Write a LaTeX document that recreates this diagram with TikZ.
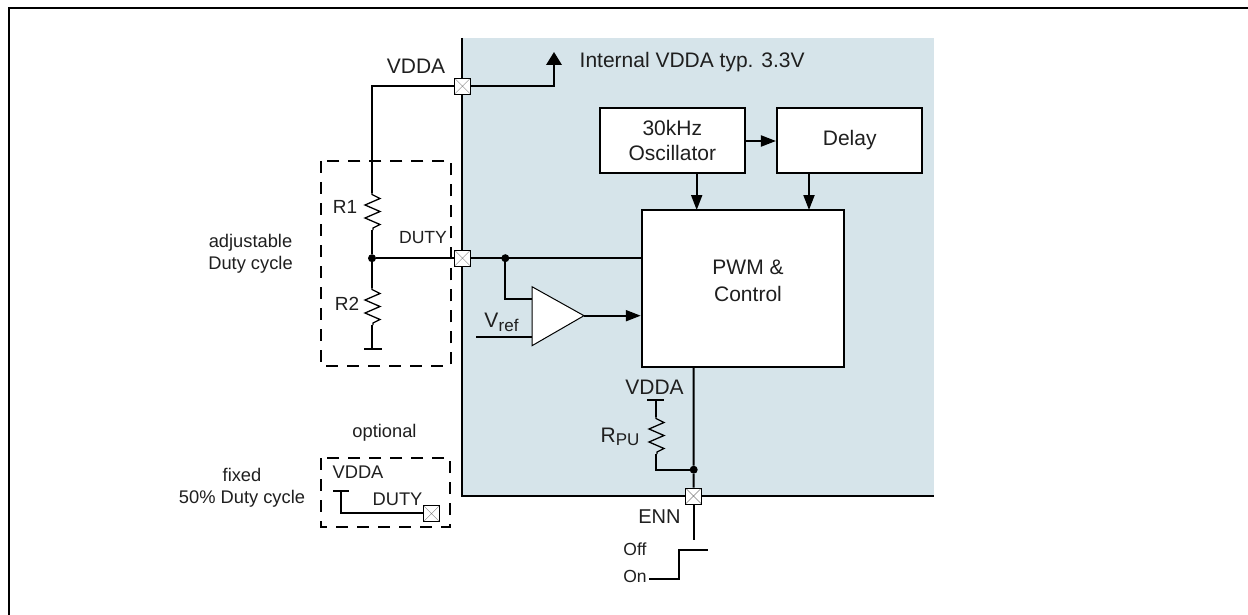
\documentclass[tikz,border=0pt]{standalone}
\usepackage{fontspec}
\setmainfont{Liberation Sans}
\usetikzlibrary{arrows.meta}
\tikzset{
 x=1pt,y=-1pt,
 wire/.style={line width=2pt,line join=miter},
 arr/.style={wire,-{Triangle[length=15pt,width=11pt]}},
 box/.style={draw,line width=2pt,fill=white,inner sep=0pt,align=center,font=\fontsize{21}{25}\selectfont,text=black!88},
 lab/.style={inner sep=0pt,align=center,font=\fontsize{21}{27}\selectfont,text=black!88},
 small/.style={inner sep=0pt,align=center,font=\fontsize{18.3}{22}\selectfont,text=black!88},
 dbox/.style={line width=1.8pt,dash pattern=on 12pt off 9pt},
 pad/.style={draw,line width=.8pt,fill=white,minimum size=16pt,inner sep=0pt,
   path picture={\draw[black!50,line width=.4pt] (path picture bounding box.north west)--(path picture bounding box.south east)
   (path picture bounding box.north east)--(path picture bounding box.south west);}},
 dot/.style={circle,fill=black,inner sep=0pt,minimum size=8pt},
}
\newcommand{\resist}[2]{%
 \draw[line width=1.3pt,line join=miter] (#1,#2) -- ++(0,1.5) -- ++(8,4) -- ++(-15,6.5) -- ++(15,6.5) -- ++(-15,6.5) -- ++(15,6.5) -- ++(-7,3.5) -- ++(0,2);}
\begin{document}
\begin{tikzpicture}
\useasboundingbox (0,0) rectangle (1248,615);
\fill[white] (0,0) rectangle (1248,615);
\draw[line width=2.3pt] (9,615) -- (9,8) -- (1248,8);
\fill[fill={rgb,255:red,214;green,228;blue,234}] (462,38) rectangle (934,496);
\draw[wire] (462,38) -- (462,496) -- (934,496);
% nodes
\node[box,minimum width=145.5pt,minimum height=65pt] (osc) at (672.3,140.5) {30kHz\\Oscillator};
\node[box,minimum width=145.5pt,minimum height=65pt] (delay) at (849.7,140.5) {Delay};
\node[box,minimum width=202.5pt,minimum height=156.7pt] (pwm) at (743,288.4) {};
\node[lab] (pwmt) at (748,280.5) {PWM \&\\Control};
\node[pad] (p1) at (462.5,86.2) {};
\node[pad] (p2) at (462.5,258.2) {};
\node[pad] (p3) at (693.5,496) {};
\node[pad] (p4) at (431.5,513.7) {};
\node[dot] (d1) at (372,258.2) {};
\node[dot] (d2) at (505.3,258.2) {};
\node[dot] (d3) at (693.7,469.7) {};
\coordinate (up) at (554,52);
\draw[wire,-{Triangle[length=13pt,width=15.5pt]}] (p1.east) -- (554,86.2) -- (up);
\draw[wire] (p1.west) -- (372,86.2) -- (372,193);
\resist{372}{193}
\draw[wire] (372,230) -- (d1) -- (372,288);
\resist{372}{288}
\draw[wire] (372,325) -- (372,349);
\draw[wire] (364,349) -- (382,349);
\draw[wire] (d1) -- (p2.west);
\draw[wire] (p2.east) -- (pwm.west|-p2);
\draw[arr] (osc.east|-0,141) -- (delay.west|-0,141);
\draw[arr] (696.7,173.3) -- (696.7,210);
\draw[arr] (809,173.3) -- (809,210);
\node[lab,anchor=west] (int) at (579.5,62.5) {Internal VDDA typ. 3.3V};
\node[lab] (v1) at (416,66) {VDDA};
\node[small,font=\fontsize{19}{22}\selectfont] (r1) at (345,207) {R1};
\node[small,font=\fontsize{19}{22}\selectfont] (r2) at (347,304) {R2};
\node[small,font=\fontsize{17.6}{22}\selectfont] (dl) at (423,237.3) {DUTY};
\node[small] (adj) at (250.5,254) {adjustable\\Duty cycle};
\draw[dbox] (321,161) rectangle (451,365.7);
% comparator
\draw[wire] (d2) -- (505.3,298.7) -- (532,298.7);
\coordinate (vr) at (476,336.7);
\draw[wire] (vr) -- (532,336.7);
\draw[line width=1pt,line join=miter,fill=white] (532,286.7) -- (584,315.7) -- (532,345.7) -- cycle;
\coordinate (ct) at (584,315.7);
\draw[arr] (ct) -- (pwm.west|-ct);
\node[lab,anchor=base] (vrt) at (501.5,327.5) {V\kern.2pt\raisebox{-3.5pt}{\fontsize{17}{20}\selectfont ref}};
% ENN
\draw[wire] (pwm.south-|d3) -- (d3) -- (p3.north);
\coordinate (e1) at (693.7,540);
\draw[wire] (p3.south-|e1) -- (e1);
\node[lab] (v2) at (654.5,387.7) {VDDA};
\draw[wire] (647,400) -- (664,400);
\draw[wire] (656,400) -- (656,417);
\resist{656}{417}
\draw[wire] (656,454) -- (656,469.7) -- (d3);
\node[lab,anchor=base west] (rpu) at (600.5,442) {R\raisebox{-3.5pt}{\fontsize{17}{20}\selectfont PU}};
\node[lab,font=\fontsize{20}{24}\selectfont] (enn) at (659.5,516.7) {ENN};
\node[small,font=\fontsize{17.5}{20}\selectfont] (off) at (635,549) {Off};
\node[small,font=\fontsize{17.5}{20}\selectfont] (on) at (635,576) {On};
\draw[wire] (649,579) -- (679,579) -- (679,550) -- (707.7,550);
% optional
\node[small] (opt) at (384.5,433) {optional};
\node[small] (fix) at (242,488) {fixed\\50\% Duty cycle};
\draw[dbox] (321,458) rectangle (450,527);
\node[small] (v3) at (358,472.7) {VDDA};
\node[small] (dl2) at (397.5,499) {DUTY};
\draw[wire] (333,490.7) -- (349,490.7);
\draw[wire] (341,490.7) -- (341,512.7) -- (p4.west|-0,512.7);
\end{tikzpicture}
\end{document}
